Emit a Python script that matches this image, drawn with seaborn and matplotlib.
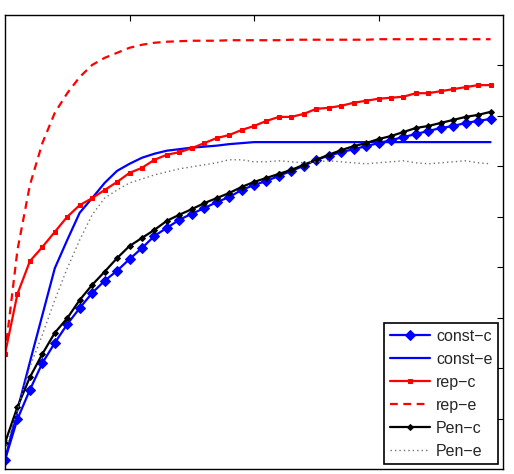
import matplotlib
matplotlib.use("Agg")
import matplotlib.pyplot as plt
import numpy as np
import pandas as pd
import seaborn as sns

# ----------------------------------------------------------
# Data
# ----------------------------------------------------------

steps = list(range(40))

const_c = [0.18, 0.99, 1.57, 2.10, 2.50, 2.87, 3.19, 3.49, 3.73, 3.93,
           4.16, 4.38, 4.62, 4.78, 4.94, 5.06, 5.17, 5.29, 5.39, 5.53,
           5.63, 5.71, 5.81, 5.91, 6.01, 6.13, 6.21, 6.28, 6.34, 6.40,
           6.46, 6.52, 6.58, 6.64, 6.70, 6.76, 6.80, 6.86, 6.90, 6.94]

const_e = [0.18, 1.17, 2.12, 3.05, 3.98, 4.54, 5.08, 5.37, 5.67, 5.91,
           6.05, 6.17, 6.25, 6.31, 6.34, 6.37, 6.39, 6.41, 6.44, 6.46,
           6.48, 6.48, 6.48, 6.48, 6.48, 6.48, 6.48, 6.48, 6.48, 6.48,
           6.48, 6.48, 6.48, 6.48, 6.48, 6.48, 6.48, 6.48, 6.48, 6.48]

rep_c = [2.28, 3.47, 4.12, 4.40, 4.70, 5.00, 5.23, 5.37, 5.53, 5.69,
         5.87, 5.97, 6.13, 6.23, 6.28, 6.36, 6.46, 6.56, 6.62, 6.72,
         6.80, 6.90, 6.98, 6.98, 7.04, 7.14, 7.16, 7.20, 7.26, 7.30,
         7.34, 7.36, 7.38, 7.45, 7.45, 7.49, 7.53, 7.57, 7.61, 7.61]

rep_e = [2.28, 4.34, 5.63, 6.46, 7.06, 7.45, 7.77, 8.01, 8.15, 8.25,
         8.35, 8.41, 8.45, 8.47, 8.48, 8.49, 8.49, 8.49, 8.50, 8.50,
         8.50, 8.50, 8.50, 8.51, 8.51, 8.51, 8.51, 8.51, 8.51, 8.51,
         8.52, 8.52, 8.52, 8.52, 8.52, 8.52, 8.52, 8.52, 8.52, 8.52]

pen_c = [0.52, 1.23, 1.82, 2.28, 2.70, 2.99, 3.35, 3.65, 3.91, 4.18,
         4.42, 4.58, 4.74, 4.92, 5.04, 5.15, 5.27, 5.37, 5.47, 5.59,
         5.69, 5.77, 5.85, 5.93, 6.03, 6.13, 6.23, 6.32, 6.40, 6.46,
         6.54, 6.60, 6.68, 6.76, 6.80, 6.86, 6.92, 6.98, 7.02, 7.08]

pen_e = [0.38, 1.17, 2.02, 2.66, 3.35, 3.98, 4.54, 5.04, 5.37, 5.53,
         5.67, 5.75, 5.83, 5.89, 5.95, 5.99, 6.03, 6.07, 6.13, 6.13,
         6.09, 6.09, 6.11, 6.09, 6.07, 6.09, 6.11, 6.09, 6.07, 6.05,
         6.07, 6.09, 6.11, 6.07, 6.05, 6.07, 6.09, 6.11, 6.07, 6.05]

# ----------------------------------------------------------
# Styles
# ----------------------------------------------------------

BLUE = "#0000ff"
RED = "#ff0000"

SERIES = [
    ("const\u2212c", const_c, dict(color=BLUE, marker="D", markersize=5.2,
                                   markeredgecolor=BLUE, linestyle="-")),
    ("const\u2212e", const_e, dict(color=BLUE, linestyle="-")),
    ("rep\u2212c", rep_c, dict(color=RED, marker="s", markersize=3.0,
                               markeredgecolor=RED, linestyle="-")),
    ("rep\u2212e", rep_e, dict(color=RED, linestyle=(0, (3.5, 2.5)))),
    ("Pen\u2212c", pen_c, dict(color="black", marker="D", markersize=3.0,
                               markeredgecolor="black", linestyle="-")),
    ("Pen\u2212e", pen_e, dict(color="0.45", linestyle=(0, (1, 2.2)), linewidth=1.0)),
]

# ----------------------------------------------------------
# Figure
# ----------------------------------------------------------

def main():

    sns.set_theme(style="white")
    plt.rcParams["font.family"] = ["Liberation Sans", "DejaVu Sans"]

    fig = plt.figure(figsize=(5.14, 4.74), dpi=100)
    ax = fig.add_axes([5 / 514, 5 / 474, 498 / 514, 454 / 474])

    for label, values, style in SERIES:
        kw = dict(linewidth=1.6)
        kw.update(style)
        df = pd.DataFrame({"step": steps, "value": values})
        sns.lineplot(
            data=df,
            x="step",
            y="value",
            label=label,
            ax=ax,
            **kw,
        )

    ax.set_xlim(0, 40)
    ax.set_ylim(0, 9)
    ax.set_xticks([10, 20, 30])
    ax.set_yticks(np.arange(1, 9))
    ax.set_xlabel("")
    ax.set_ylabel("")

    ax.tick_params(
        direction="in",
        top=True,
        right=True,
        length=4,
        width=0.8,
        color="black",
        labelbottom=False,
        labelleft=False,
    )

    for spine in ax.spines.values():
        spine.set_color("black")
        spine.set_linewidth(1.0)

    leg = ax.legend(
        loc="lower right",
        fontsize=11.5,
        frameon=True,
        fancybox=False,
        edgecolor="black",
        framealpha=1,
        handlelength=2.5,
        handletextpad=0.4,
        labelspacing=0.5,
        borderpad=0.35,
        borderaxespad=0.3,
    )
    leg.get_frame().set_linewidth(1.2)

    fig.savefig("out.png", dpi=100)
    plt.close(fig)

if __name__ == "__main__":
    main()
